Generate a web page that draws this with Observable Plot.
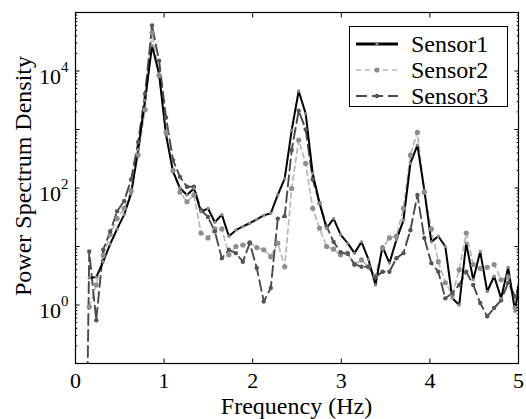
<!DOCTYPE html>
<html><head><meta charset="utf-8">
<script src="https://cdn.jsdelivr.net/npm/d3@7"></script>
<script src="https://cdn.jsdelivr.net/npm/@observablehq/plot@0.6"></script>
<style>
html,body{margin:0;padding:0;background:#fff;overflow:hidden;}
#wrap{position:relative;width:526px;height:419px;overflow:hidden;font-family:"Liberation Serif",serif;}
#wrap svg, #wrap svg text{font-family:"Liberation Serif",serif !important;}
#legend{position:absolute;left:349px;top:26px;width:159px;height:81px;border:1.3px solid #000;background:#fff;box-sizing:border-box;}
.row{position:absolute;left:0;height:26px;display:flex;align-items:center;}
.row svg{margin-left:5px;display:block;}
.row span{font-family:"Liberation Serif",serif;font-size:24px;margin-left:12px;line-height:26px;color:#000;}
</style></head><body><div id="wrap"></div>
<script>
// Frequency (Hz) of each spectral line
const freq = [0.076,0.155,0.234,0.313,0.391,0.470,0.549,0.628,0.707,0.785,0.864,
  0.943,1.022,1.101,1.179,1.258,1.337,1.416,1.495,1.573,1.652,
  1.731,1.810,1.889,1.967,2.046,2.125,2.204,2.283,2.361,2.440,
  2.519,2.598,2.677,2.755,2.834,2.913,2.992,3.071,3.149,3.228,
  3.307,3.386,3.465,3.543,3.622,3.701,3.780,3.859,3.937,4.016,
  4.095,4.174,4.253,4.331,4.410,4.489,4.568,4.647,4.725,4.804,
  4.883,4.962,5.041];
const sensor1 = [null,2.9,3.0,5.5,11,20,35,80,450,3150,27000,
  9000,800,190,100,76,98,39,45,26,35,
  15,19,22,25,29,34,37,76,145,970,
  4550,1860,178,55,20.5,30,16,11.4,7.7,12,
  6,2.2,10,5.2,13,28,263,540,92,12,
  15,10,1.3,1.0,11.4,2.7,8.2,1.7,3.1,1.3,
  4.4,0.78,6.3];
const sensor2 = [null,0.93,2.2,7,16,30,45,90,365,2180,45000,
  8400,900,200,85,58,76,17,14,20,20,
  7.2,10,10.6,11.7,9.6,8.8,6.7,11.4,4.5,98,
  660,263,45,20.5,10,9,7.2,7.7,4.9,5.9,
  4.5,3.1,9.4,14,15,45,365,890,85,20,
  5.5,2.4,1.5,4.0,17,4.9,4.2,4.4,4.9,2.7,
  3.0,0.9,2.9];
const sensor3 = [1e-8,8.2,0.55,8.8,18,40,60,140,610,4100,60000,
  15000,1600,300,155,105,105,42,32,18,6.3,
  8.8,7.7,5.5,11.4,4.3,1.15,1.95,30,33,445,
  2100,1000,140,55,22,12,8,7.5,5,4.5,
  4.5,3.0,3.7,3.7,6.3,7.7,19,76,14,5.2,
  3.7,1.3,1.6,2.2,3.7,2.2,1.08,0.64,0.89,1.2,
  2.4,1.4,3.1];
const seriesNames = ["Sensor1","Sensor2","Sensor3"];
const xTicks = [0,1,2,3,4,5];
const yLabelTicks = [1,100,10000];
const yMajorTicks = [0.1,1,10,100,1000,10000,100000];
const yMinorTicks = [];
for (const d of [0.1,1,10,100,1000,10000]) for (let m=2;m<=9;m++) yMinorTicks.push(+(d*m).toPrecision(3));

const toRows = (vals) => freq.map((f,i)=>({f, v: vals[i]})).filter(r=>r.v!=null);
const r1 = toRows(sensor1), r2 = toRows(sensor2), r3 = toRows(sensor3);

const FONT = "Liberation Serif, serif";
const blank = () => "";
const chart = Plot.plot({
  width: 526, height: 419,
  marginLeft: 75, marginRight: 8, marginTop: 12, marginBottom: 56,
  x: {domain: [0,5]},
  y: {type: "log", domain: [0.1, 1e5]},
  style: {fontFamily: FONT, background: "#fff", color: "#000"},
  marks: [
    Plot.line(r2, {x:"f", y:"v", stroke:"#b8b8b8", strokeWidth:1.7, strokeDasharray:"5,4", clip:true}),
    Plot.line(r3, {x:"f", y:"v", stroke:"#4a4a4a", strokeWidth:1.9, strokeDasharray:"11,5", clip:true}),
    Plot.line(r1, {x:"f", y:"v", stroke:"#000", strokeWidth:2, clip:true}),
    Plot.dot(r2, {x:"f", y:"v", r:2.6, fill:"#8e8e8e", clip:true}),
    Plot.dot(r3, {x:"f", y:"v", r:2.2, fill:"#555", clip:true}),
    Plot.dot(r1, {x:"f", y:"v", r:1.7, fill:"#888", clip:true}),
    Plot.frame({stroke:"#000", strokeWidth:1.2}),
    Plot.axisX({ticks:xTicks, anchor:"bottom", tickSize:-4.5, tickFormat:blank, label:null}),
    Plot.axisX({ticks:xTicks, anchor:"top", tickSize:-4.5, tickFormat:blank, label:null}),
    Plot.axisX({ticks:xTicks, anchor:"bottom", tickSize:0, tickPadding:9, fontSize:22, fontFamily:FONT, tickFormat:d=>String(d), label:null}),
    Plot.axisY({ticks:yMajorTicks, anchor:"left", tickSize:-4.5, tickFormat:blank, label:null}),
    Plot.axisY({ticks:yMajorTicks, anchor:"right", tickSize:-4.5, tickFormat:blank, label:null}),
    Plot.axisY({ticks:yMinorTicks, anchor:"left", tickSize:-2.3, tickFormat:blank, label:null}),
    Plot.axisY({ticks:yMinorTicks, anchor:"right", tickSize:-2.3, tickFormat:blank, label:null}),
    Plot.axisY({ticks:yLabelTicks, anchor:"left", tickSize:0, tickPadding:7, fontSize:22, fontFamily:FONT,
      tickFormat:d=>"10^"+Math.round(Math.log10(d)), label:null})
  ]
});

// superscript exponents on the y tick labels
d3.select(chart).selectAll("text").each(function(){
  const t = this.textContent;
  if (t.startsWith("10^")) {
    const e = t.slice(3);
    const sel = d3.select(this);
    sel.text(null);
    sel.append("tspan").attr("dy", 6).text("10");
    sel.append("tspan").attr("dy", -12).attr("font-size", 15).text(e);
  }
});
const svg = d3.select(chart);
svg.append("text").attr("transform","translate(23,176) rotate(-90)")
  .attr("text-anchor","middle").attr("dominant-baseline","central")
  .attr("font-family",FONT).attr("font-size",24).attr("fill","#000").text("Power Spectrum Density");
svg.append("text").attr("x",296.5).attr("y",414)
  .attr("text-anchor","middle").attr("font-family",FONT).attr("font-size",24).attr("fill","#000").text("Frequency (Hz)");

const wrap = document.getElementById("wrap");
wrap.appendChild(chart);

// legend
const legendStyles = [
  {stroke:"#000", w:3, dash:null, dotFill:"#888", r:1.7},
  {stroke:"#b8b8b8", w:1.7, dash:"5,4", dotFill:"#8e8e8e", r:2.6},
  {stroke:"#4a4a4a", w:1.9, dash:"11,5", dotFill:"#555", r:2.2}
];
const legend = document.createElement("div");
legend.id = "legend";
seriesNames.forEach((name,i)=>{
  const row = document.createElement("div");
  row.className = "row";
  row.style.top = (4 + i*26) + "px";
  const s = legendStyles[i];
  row.innerHTML = `<svg width="44" height="12"><line x1="1" x2="43" y1="6" y2="6" stroke="${s.stroke}" stroke-width="${s.w}" ${s.dash?`stroke-dasharray="${s.dash}"`:""}/><circle cx="22" cy="6" r="${s.r}" fill="${s.dotFill}"/></svg><span>${name}</span>`;
  legend.appendChild(row);
});
wrap.appendChild(legend);
</script></body></html>
